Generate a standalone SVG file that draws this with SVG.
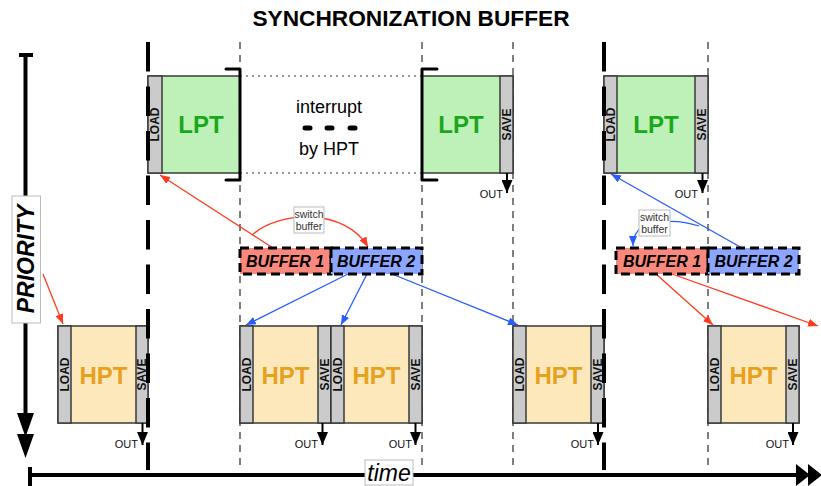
<svg xmlns="http://www.w3.org/2000/svg" width="821" height="486" viewBox="0 0 821 486">
<defs>
<style>
text{font-family:"Liberation Sans",Arial,sans-serif}
.title{font-size:22.7px;font-weight:bold;fill:#000}
.blk{stroke:#3a3a3a;stroke-width:1.5}
.lptf{fill:#bdf1b8}
.hptf{fill:#fde8bc}
.strip{fill:#cbcbcb;stroke:#3a3a3a;stroke-width:1.5}
.lpt{font-size:24px;font-weight:bold;fill:#1aa81a;text-anchor:middle}
.hpt{font-size:24px;font-weight:bold;fill:#e6a21f;text-anchor:middle}
.ls{font-size:12px;font-weight:bold;fill:#111;text-anchor:middle;dominant-baseline:central}
.out{font-size:11px;fill:#111;text-anchor:end}
.thin{stroke:#555;stroke-width:1.5;stroke-dasharray:7 6;fill:none}
.thick{stroke:#000;stroke-width:4;stroke-dasharray:29.5 15;fill:none}
.brk{stroke:#000;stroke-width:3;fill:none;stroke-linecap:round;stroke-linejoin:round}
.dot{stroke:#333;stroke-width:1.2;stroke-dasharray:2 4;fill:none}
.buf{stroke:#000;stroke-width:3;stroke-dasharray:9 5}
.b1{fill:#f9897c}
.b2{fill:#8ca6ff}
.bt{font-size:16px;font-weight:bold;font-style:italic;fill:#000;text-anchor:middle}
.red{stroke:#ff3b1f;stroke-width:1.3;fill:none;marker-end:url(#ar)}
.blue{stroke:#2a5cff;stroke-width:1.3;fill:none;marker-end:url(#ab)}
.sw{fill:#fff;stroke:#bbb;stroke-width:1}
.swt{font-size:10.5px;fill:#333;text-anchor:middle}
.outl{stroke:#000;stroke-width:2;marker-end:url(#ak)}
.mid{font-size:18px;fill:#000;text-anchor:middle}
</style>
<marker id="ar" viewBox="0 0 10 8" refX="10" refY="4" markerWidth="10" markerHeight="8" markerUnits="userSpaceOnUse" orient="auto"><path d="M0,0 L10,4 L0,8 z" fill="#ff3b1f"/></marker>
<marker id="ab" viewBox="0 0 10 8" refX="10" refY="4" markerWidth="10" markerHeight="8" markerUnits="userSpaceOnUse" orient="auto"><path d="M0,0 L10,4 L0,8 z" fill="#2a5cff"/></marker>
<marker id="ak" viewBox="0 0 13 11" refX="13" refY="5.5" markerWidth="13" markerHeight="11" markerUnits="userSpaceOnUse" orient="auto"><path d="M0,0 L13,5.5 L0,11 z" fill="#000"/></marker>
</defs>
<rect width="821" height="486" fill="#fff"/>
<text class="title" x="411" y="26" text-anchor="middle">SYNCHRONIZATION BUFFER</text>

<g id="grid">
<line class="thin" x1="240" y1="42" x2="240" y2="470"/>
<line class="thin" x1="422" y1="42" x2="422" y2="470"/>
<line class="thin" x1="513" y1="42" x2="513" y2="470"/>
<line class="thin" x1="708" y1="42" x2="708" y2="470"/>
<line class="dot" x1="240" y1="76" x2="422" y2="76"/>
<line class="dot" x1="240" y1="173" x2="422" y2="173"/>
</g>

<g id="priority-axis">
<line x1="25.5" y1="54" x2="25.5" y2="414" stroke="#000" stroke-width="4"/>
<line x1="19" y1="55" x2="33" y2="55" stroke="#000" stroke-width="4"/>
<path d="M17,413 L34,413 L25.5,437 z M17,434 L34,434 L25.5,458 z" fill="#000"/>
<rect x="12" y="196" width="28.5" height="127" fill="#fff" stroke="#bbb" stroke-width="1"/>
<text transform="rotate(-90 26 259)" x="26" y="259" font-size="23" font-weight="bold" font-style="italic" text-anchor="middle" dominant-baseline="central" fill="#000">PRIORITY</text>
</g>

<g id="time-axis">
<line x1="30" y1="475" x2="800" y2="475" stroke="#000" stroke-width="4"/>
<line x1="30" y1="467" x2="30" y2="487" stroke="#000" stroke-width="4"/>
<path d="M796,464 L810,475 L796,486 z M808,464 L822,475 L808,486 z" fill="#000"/>
<rect x="365" y="460" width="48" height="25" fill="#fff" stroke="#bbb" stroke-width="1"/>
<text x="389" y="481" font-size="23" font-style="italic" text-anchor="middle" fill="#000">time</text>
</g>

<g id="lpt1">
<rect class="blk lptf" x="148" y="76" width="92" height="97"/>
<rect class="strip" x="148" y="76" width="14" height="97"/>
<text class="ls" transform="rotate(-90 155 124.5)" x="155" y="124.5">LOAD</text>
<text class="lpt" x="201" y="133">LPT</text>
<path class="brk" d="M226,69 L240,69 L240,180 L226,180"/>
</g>

<g id="interrupt">
<text class="mid" x="329" y="113">interrupt</text>
<g stroke="#000" stroke-width="5" stroke-linecap="round">
<line x1="305" y1="128" x2="310" y2="128"/>
<line x1="327" y1="128" x2="332" y2="128"/>
<line x1="350" y1="128" x2="355" y2="128"/>
</g>
<text class="mid" x="329" y="155">by HPT</text>
</g>

<g id="lpt2">
<rect class="blk lptf" x="422" y="76" width="91" height="97"/>
<rect class="strip" x="500" y="76" width="13" height="97"/>
<text class="ls" transform="rotate(-90 506.5 124.5)" x="506.5" y="124.5">SAVE</text>
<text class="lpt" x="461" y="133">LPT</text>
<path class="brk" d="M437,69 L422,69 L422,180 L437,180"/>
<line class="outl" x1="507" y1="173" x2="507" y2="193"/>
<text class="out" x="503" y="198">OUT</text>
</g>

<g id="lpt3">
<rect class="blk lptf" x="604" y="76" width="104" height="97"/>
<rect class="strip" x="604" y="76" width="13" height="97"/>
<rect class="strip" x="695" y="76" width="13" height="97"/>
<text class="ls" transform="rotate(-90 610.5 124.5)" x="610.5" y="124.5">LOAD</text>
<text class="ls" transform="rotate(-90 701.5 124.5)" x="701.5" y="124.5">SAVE</text>
<text class="lpt" x="656" y="133">LPT</text>
<line class="outl" x1="702.5" y1="173" x2="702.5" y2="193"/>
<text class="out" x="698" y="198">OUT</text>
</g>

<g id="hpt1">
<rect class="blk hptf" x="58" y="326" width="90" height="97"/>
<rect class="strip" x="58" y="326" width="13" height="97"/>
<rect class="strip" x="136" y="326" width="12" height="97"/>
<text class="ls" transform="rotate(-90 64.5 374.5)" x="64.5" y="374.5">LOAD</text>
<text class="ls" transform="rotate(-90 142 374.5)" x="142" y="374.5">SAVE</text>
<text class="hpt" x="103.5" y="384">HPT</text>
<line class="outl" x1="142.5" y1="423" x2="142.5" y2="445"/>
<text class="out" x="138" y="448">OUT</text>
</g>

<g id="hpt2">
<rect class="blk hptf" x="240" y="326" width="91" height="97"/>
<rect class="strip" x="240" y="326" width="13" height="97"/>
<rect class="strip" x="318" y="326" width="13" height="97"/>
<text class="ls" transform="rotate(-90 246.5 374.5)" x="246.5" y="374.5">LOAD</text>
<text class="ls" transform="rotate(-90 324.5 374.5)" x="324.5" y="374.5">SAVE</text>
<text class="hpt" x="285.5" y="384">HPT</text>
<line class="outl" x1="322.5" y1="423" x2="322.5" y2="445"/>
<text class="out" x="318" y="448">OUT</text>
</g>

<g id="hpt3">
<rect class="blk hptf" x="331" y="326" width="91" height="97"/>
<rect class="strip" x="331" y="326" width="13" height="97"/>
<rect class="strip" x="409" y="326" width="13" height="97"/>
<text class="ls" transform="rotate(-90 337.5 374.5)" x="337.5" y="374.5">LOAD</text>
<text class="ls" transform="rotate(-90 415.5 374.5)" x="415.5" y="374.5">SAVE</text>
<text class="hpt" x="376.5" y="384">HPT</text>
<line class="outl" x1="415.5" y1="423" x2="415.5" y2="445"/>
<text class="out" x="412" y="448">OUT</text>
</g>

<g id="hpt4">
<rect class="blk hptf" x="513" y="326" width="91" height="97"/>
<rect class="strip" x="513" y="326" width="13" height="97"/>
<rect class="strip" x="591" y="326" width="13" height="97"/>
<text class="ls" transform="rotate(-90 519.5 374.5)" x="519.5" y="374.5">LOAD</text>
<text class="ls" transform="rotate(-90 597.5 374.5)" x="597.5" y="374.5">SAVE</text>
<text class="hpt" x="558.5" y="384">HPT</text>
<line class="outl" x1="598" y1="423" x2="598" y2="445"/>
<text class="out" x="594" y="448">OUT</text>
</g>

<g id="hpt5">
<rect class="blk hptf" x="708" y="326" width="91" height="97"/>
<rect class="strip" x="708" y="326" width="13" height="97"/>
<rect class="strip" x="786" y="326" width="13" height="97"/>
<text class="ls" transform="rotate(-90 714.5 374.5)" x="714.5" y="374.5">LOAD</text>
<text class="ls" transform="rotate(-90 792.5 374.5)" x="792.5" y="374.5">SAVE</text>
<text class="hpt" x="753.5" y="384">HPT</text>
<line class="outl" x1="793" y1="423" x2="793" y2="445"/>
<text class="out" x="789" y="448">OUT</text>
</g>

<g id="thick-dividers">
<line class="thick" x1="148" y1="42" x2="148" y2="470"/>
<line class="thick" x1="604" y1="42" x2="604" y2="470"/>
</g>

<g id="connectors">
<line class="red" x1="43" y1="274" x2="63" y2="324"/>
<line class="red" x1="273" y1="248" x2="160" y2="175"/>
<path class="red" d="M252,235 C280,210 345,208 368,247"/>
<line class="red" x1="656" y1="274" x2="713" y2="325"/>
<line class="red" x1="672" y1="274" x2="818" y2="326"/>
<line class="blue" x1="348" y1="274" x2="246" y2="325"/>
<line class="blue" x1="367" y1="274" x2="341" y2="325"/>
<line class="blue" x1="392" y1="274" x2="518" y2="325"/>
<line class="blue" x1="742" y1="248" x2="611" y2="174"/>
<path class="blue" d="M699,226 C680,220 660,220 646,225 C637,229 633,236 633,246"/>
</g>

<g id="buffers-left">
<rect class="buf b1" x="240" y="248" width="91" height="26"/>
<rect class="buf b2" x="331" y="248" width="91" height="26"/>
<text class="bt" x="285" y="267">BUFFER 1</text>
<text class="bt" x="376" y="267">BUFFER 2</text>
</g>

<g id="buffers-right">
<rect class="buf b1" x="616" y="248" width="92" height="26"/>
<rect class="buf b2" x="708" y="248" width="91" height="26"/>
<text class="bt" x="662" y="267">BUFFER 1</text>
<text class="bt" x="753.5" y="267">BUFFER 2</text>
</g>

<g id="switch-left">
<rect class="sw" x="294" y="207" width="30" height="26"/>
<text class="swt" x="309" y="218">switch</text>
<text class="swt" x="309" y="230">buffer</text>
</g>

<g id="switch-right">
<rect class="sw" x="639" y="210" width="31" height="26"/>
<text class="swt" x="654.5" y="221">switch</text>
<text class="swt" x="654.5" y="233">buffer</text>
</g>
</svg>
